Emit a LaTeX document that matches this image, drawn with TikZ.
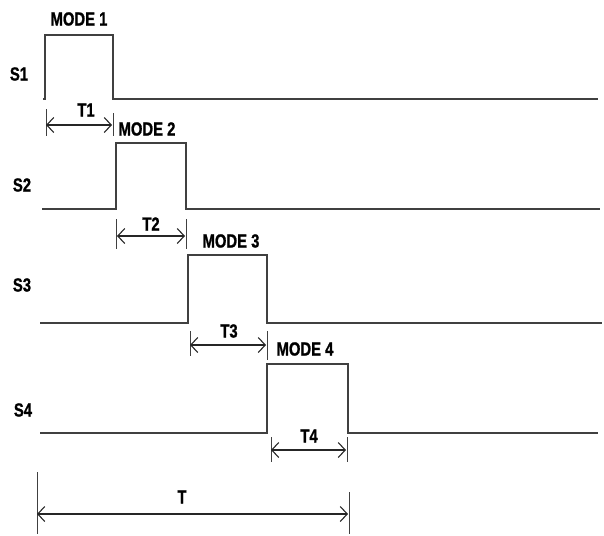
\documentclass[tikz,border=0pt]{standalone}
\usepackage{fontspec}
\setmainfont{Liberation Sans}
\newfontfamily\heavy{Liberation Sans Bold}[FakeBold=1.2]
\usetikzlibrary{arrows.meta}
\tikzset{
  sig/.style={draw=black!75, line width=1.6pt, line join=miter},
  dim/.style={draw=black!85, line width=1.1pt, {Straight Barb[length=7pt,width=15pt]}-{Straight Barb[length=7pt,width=15pt]}},
  tick/.style={draw=black!75, line width=0.8pt},
  lbl/.style={font=\fontsize{19}{19}\heavy, inner sep=0pt},
}
\newcommand{\nar}[1]{\scalebox{0.78}[1]{#1}}
\begin{document}
\begin{tikzpicture}[x=1pt,y=-1pt]
\useasboundingbox (0,0) rectangle (604,535);
% signals
\draw[sig] (43,99) -- (45,99) -- (45,35) -- (113,35) -- (113,99) -- (598,99);
\draw[sig] (42,209) -- (116,209) -- (116,143) -- (186,143) -- (186,209) -- (600,209);
\draw[sig] (40,323) -- (188,323) -- (188,255) -- (267,255) -- (267,323) -- (602,323);
\draw[sig] (40,433) -- (267,433) -- (267,364) -- (348,364) -- (348,433) -- (598,433);
% signal labels
\node[lbl] (s1) at (19,74) {\nar{S1}};
\node[lbl] (s2) at (22,185) {\nar{S2}};
\node[lbl] (s3) at (22,285) {\nar{S3}};
\node[lbl] (s4) at (23,410) {\nar{S4}};
% mode labels
\node[lbl] (m1) at (79,19) {\nar{MODE 1}};
\node[lbl] (m2) at (147,129) {\nar{MODE 2}};
\node[lbl] (m3) at (231,241) {\nar{MODE 3}};
\node[lbl] (m4) at (305,349) {\nar{MODE 4}};
% T1
\coordinate (a1) at (46,125); \coordinate (b1) at (112,125);
\draw[tick] (46,109) -- (46,136);
\draw[tick] (113,113) -- (113,136);
\draw[dim] (a1) -- (b1);
\node[lbl] (t1) at (86,110) {\nar{T1}};
% T2
\coordinate (a2) at (117,236); \coordinate (b2) at (185,236);
\draw[tick] (116,219) -- (116,249);
\draw[tick] (186,219) -- (186,249);
\draw[dim] (a2) -- (b2);
\node[lbl] (t2) at (151,224) {\nar{T2}};
% T3
\coordinate (a3) at (190,345); \coordinate (b3) at (266,345);
\draw[tick] (190,331) -- (190,356);
\draw[tick] (267,331) -- (267,360);
\draw[dim] (a3) -- (b3);
\node[lbl] (t3) at (229,331) {\nar{T3}};
% T4
\coordinate (a4) at (271,450); \coordinate (b4) at (346,450);
\draw[tick] (271,437) -- (271,462);
\draw[tick] (347,437) -- (347,462);
\draw[dim] (a4) -- (b4);
\node[lbl] (t4) at (309,436) {\nar{T4}};
% T
\coordinate (a) at (37,514); \coordinate (b) at (348,514);
\draw[tick] (37,472) -- (37,534);
\draw[tick] (349,492) -- (349,534);
\draw[dim] (a) -- (b);
\node[lbl] (t) at (182,497) {\nar{T}};
\end{tikzpicture}
\end{document}
